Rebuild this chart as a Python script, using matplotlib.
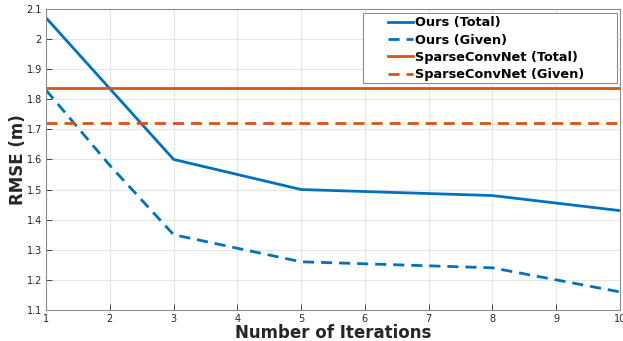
import matplotlib
matplotlib.use("Agg")
import matplotlib.pyplot as plt
from matplotlib.patches import Rectangle
import numpy as np

iters = [1, 2, 3, 5, 8, 10]
ours_total = [2.07, 1.835, 1.60, 1.50, 1.48, 1.43]
ours_given = [1.83, 1.58, 1.35, 1.26, 1.24, 1.16]
scn_total = 1.838
scn_given = 1.72

blue = "#0072BD"
orange = "#D95319"
axcol = "#262626"

fig = plt.figure(figsize=(6.23, 3.41), dpi=100)
ax = fig.add_axes([0.074, 0.091, 0.921, 0.883])

ax.plot(iters, ours_total, color=blue, lw=2, label="Ours (Total)")
ax.plot(iters, ours_given, color=blue, lw=2, dashes=(4, 2.5), label="Ours (Given)")
ax.axhline(scn_total, color=orange, lw=2, label="SparseConvNet (Total)")
ax.axhline(scn_given, color=orange, lw=2, dashes=(4, 2.5), label="SparseConvNet (Given)")

ax.set_xlim(1, 10)
ax.set_ylim(1.1, 2.1)
ax.set_xticks(range(1, 11))
ax.set_yticks(np.round(np.arange(1.1, 2.11, 0.1), 1))
ax.set_yticklabels(["1.1", "1.2", "1.3", "1.4", "1.5", "1.6", "1.7", "1.8", "1.9", "2", "2.1"])
ax.grid(True, color="#e6e6e6", lw=0.8)
ax.set_axisbelow(True)
ax.tick_params(direction="in", length=4, labelsize=7, colors=axcol, width=0.6, pad=3)
for s in ax.spines.values():
    s.set_color("#8c8c8c")
    s.set_linewidth(0.8)

ax.set_xlabel("Number of Iterations", fontsize=12, fontweight="bold", color=axcol, labelpad=0)
ax.set_ylabel("RMSE (m)", fontsize=12, fontweight="bold", color=axcol, labelpad=0)

# legend box is wider than its contents, so draw the frame separately
box = Rectangle((0.552, 0.754), 0.443, 0.233, transform=ax.transAxes,
                facecolor="white", edgecolor="#8c8c8c", lw=0.8, zorder=4)
ax.add_patch(box)
leg = ax.legend(loc="upper left", bbox_to_anchor=(0.596, 0.975), frameon=False,
                prop={"weight": "bold", "size": 9.3}, handlelength=1.9,
                handletextpad=0.2, borderpad=0, borderaxespad=0, labelspacing=0.33)
leg.set_zorder(5)

fig.savefig("out.png", dpi=100)
